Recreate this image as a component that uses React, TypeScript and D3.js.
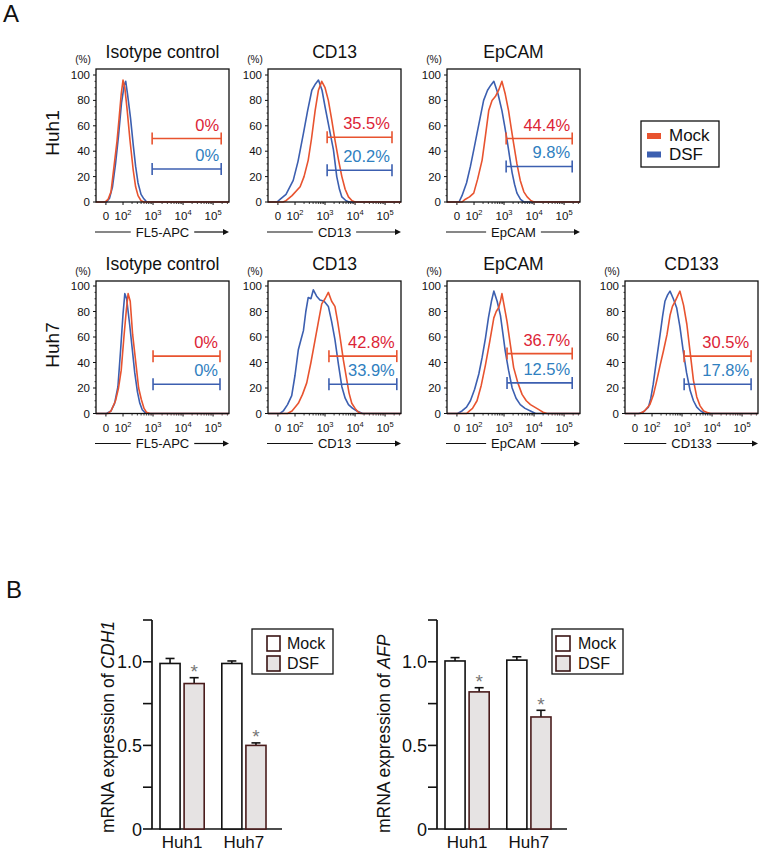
import React from 'react';
import * as d3 from 'd3';

const FONT = "'Liberation Sans', Arial, Helvetica, sans-serif";
const MOCK_LINE = '#e8532f';
const DSF_LINE = '#3c5fb0';
const MOCK_TEXT = '#dc2436';
const DSF_TEXT = '#2f80c0';

// ---------- Panel A data ----------
const cellLines = ['Huh1', 'Huh7'];
const markerTitles = ['Isotype control', 'CD13', 'EpCAM', 'CD133'];
const axisLabels = ['FL5-APC', 'CD13', 'EpCAM', 'CD133'];
const xTickValues = [1.43, 2, 3, 4, 5];
const xTickBase = ['0', '10', '10', '10', '10'];
const xTickExp = ['', '2', '3', '4', '5'];
const yTickValues = [0, 20, 40, 60, 80, 100];
const legendA = ['Mock', 'DSF'];

// histograms: [display decade, % of max]
const huh1IsoMock: [number, number][] = [[1.1,0],[1.4,0],[1.5,2],[1.6,8],[1.7,28],[1.8,48],[1.87,66],[1.94,85],[2.0,96],[2.06,90],[2.14,72],[2.23,49],[2.34,25],[2.42,12],[2.5,5],[2.6,1],[2.7,0],[5.53,0]];
const huh1IsoDSF: [number, number][] = [[1.1,0],[1.45,0],[1.55,3],[1.65,12],[1.75,30],[1.85,52],[1.95,78],[2.04,92],[2.09,95],[2.15,85],[2.25,66],[2.34,45],[2.42,28],[2.5,15],[2.6,6],[2.68,3],[2.79,0],[5.53,0]];
const huh1CD13Mock: [number, number][] = [[1.1,0],[1.6,0],[1.7,1],[1.9,5],[2.17,12],[2.3,20],[2.44,33],[2.55,50],[2.67,72],[2.78,88],[2.89,95],[3.0,90],[3.11,80],[3.22,65],[3.33,49],[3.45,33],[3.56,20],[3.67,10],[3.78,4],[3.9,1],[4.0,0],[5.53,0]];
const huh1CD13DSF: [number, number][] = [[1.1,0],[1.4,0],[1.5,2],[1.7,6],[1.94,17],[2.1,32],[2.28,54],[2.42,72],[2.56,88],[2.68,93],[2.78,96],[2.9,88],[3.0,75],[3.14,58],[3.28,41],[3.39,20],[3.48,10],[3.56,4],[3.7,1],[3.8,0],[5.53,0]];
const huh1EpMock: [number, number][] = [[1.1,0],[1.6,0],[1.7,2],[1.85,4],[1.99,7],[2.12,18],[2.27,33],[2.38,52],[2.49,72],[2.6,80],[2.71,83],[2.82,88],[2.93,95],[3.04,85],[3.15,72],[3.24,58],[3.32,46],[3.43,30],[3.54,17],[3.66,8],[3.77,4],[3.9,1],[4.0,0],[5.53,0]];
const huh1EpDSF: [number, number][] = [[1.1,0],[1.5,0],[1.6,5],[1.75,15],[1.88,28],[2.0,42],[2.1,54],[2.21,67],[2.32,80],[2.45,88],[2.56,92],[2.66,95],[2.8,85],[2.93,72],[3.02,60],[3.1,49],[3.19,35],[3.27,23],[3.35,14],[3.43,7],[3.55,2],[3.66,0],[5.53,0]];

const huh7IsoMock: [number, number][] = [[1.1,0],[1.5,0],[1.6,2],[1.75,10],[1.85,20],[1.94,34],[2.03,60],[2.11,81],[2.17,94],[2.24,88],[2.32,62],[2.44,37],[2.52,20],[2.61,11],[2.7,4],[2.78,1],[2.9,0],[5.53,0]];
const huh7IsoDSF: [number, number][] = [[1.1,0],[1.45,0],[1.6,2],[1.72,8],[1.83,21],[1.92,50],[2.0,78],[2.06,94],[2.12,90],[2.22,70],[2.31,50],[2.39,32],[2.48,17],[2.56,8],[2.64,3],[2.72,1],[2.85,0],[5.53,0]];
const huh7CD13Mock: [number, number][] = [[1.1,0],[1.75,0],[1.9,2],[2.11,8],[2.25,15],[2.39,24],[2.53,40],[2.67,58],[2.78,72],[2.89,86],[3.0,90],[3.11,95],[3.22,88],[3.33,84],[3.42,72],[3.5,60],[3.61,42],[3.72,27],[3.8,16],[3.89,8],[4.0,4],[4.11,1],[4.2,0],[5.53,0]];
const huh7CD13DSF: [number, number][] = [[1.1,0],[1.5,0],[1.61,2],[1.75,7],[1.89,14],[2.0,30],[2.11,50],[2.2,58],[2.28,65],[2.36,80],[2.44,91],[2.53,90],[2.61,97],[2.72,92],[2.83,89],[2.97,88],[3.11,84],[3.22,72],[3.33,58],[3.45,38],[3.56,21],[3.67,12],[3.78,7],[3.92,4],[4.06,2],[4.25,0],[5.53,0]];
const huh7EpMock: [number, number][] = [[1.1,0],[1.75,0],[1.85,2],[1.95,4],[2.1,10],[2.24,22],[2.38,38],[2.52,56],[2.66,75],[2.74,80],[2.82,83],[2.88,88],[2.93,94],[3.0,85],[3.1,72],[3.21,54],[3.32,36],[3.46,24],[3.6,15],[3.74,10],[3.88,7],[4.02,5],[4.16,3],[4.3,1],[4.43,0],[5.53,0]];
const huh7EpDSF: [number, number][] = [[1.1,0],[1.45,0],[1.6,2],[1.75,5],[1.88,10],[2.02,19],[2.16,31],[2.27,44],[2.38,59],[2.48,75],[2.58,88],[2.66,96],[2.77,88],[2.88,77],[2.96,63],[3.04,49],[3.15,34],[3.27,20],[3.4,12],[3.54,7],[3.7,4],[3.88,2],[4.05,0],[5.53,0]];
const huh7CD133Mock: [number, number][] = [[1.1,0],[1.6,0],[1.75,2],[1.93,7],[2.05,15],[2.16,26],[2.27,38],[2.38,49],[2.5,62],[2.6,77],[2.68,84],[2.77,88],[2.85,92],[2.93,96],[3.05,85],[3.16,70],[3.27,48],[3.38,26],[3.49,13],[3.6,6],[3.72,2],[3.82,1],[3.95,0],[5.53,0]];
const huh7CD133DSF: [number, number][] = [[1.1,0],[1.55,0],[1.7,1],[1.88,5],[1.96,12],[2.04,23],[2.15,42],[2.27,62],[2.35,76],[2.43,88],[2.52,93],[2.6,96],[2.71,90],[2.82,83],[2.93,68],[3.04,49],[3.15,32],[3.27,18],[3.38,10],[3.49,5],[3.62,2],[3.75,0],[5.53,0]];

const huh1Mock = [huh1IsoMock, huh1CD13Mock, huh1EpMock];
const huh1DSF = [huh1IsoDSF, huh1CD13DSF, huh1EpDSF];
const huh7Mock = [huh7IsoMock, huh7CD13Mock, huh7EpMock, huh7CD133Mock];
const huh7DSF = [huh7IsoDSF, huh7CD13DSF, huh7EpDSF, huh7CD133DSF];

const huh1MockPct = ['0%', '35.5%', '44.4%'];
const huh1DsfPct = ['0%', '20.2%', '9.8%'];
const huh7MockPct = ['0%', '42.8%', '36.7%', '30.5%'];
const huh7DsfPct = ['0%', '33.9%', '12.5%', '17.8%'];

const huh1MockGateY = [50, 51, 50];
const huh1DsfGateY = [26, 25, 28];
const huh7MockGateY = [45, 45, 47, 45];
const huh7DsfGateY = [23, 23, 24, 23];
const huh1GateStart = [2.97, 3.07, 3.07];
const huh1GateEnd = [5.27, 5.23, 5.27];
const huh7GateStart = [3.0, 3.13, 3.1, 3.07];
const huh7GateEnd = [5.23, 5.39, 5.27, 5.3];

// ---------- Panel B data ----------
const bCategories = ['Huh1', 'Huh7'];
const bGroups = ['Mock', 'DSF'];
const cdh1Mock = [0.99, 0.99];
const cdh1MockErr = [0.03, 0.015];
const cdh1DSF = [0.87, 0.50];
const cdh1DSFErr = [0.035, 0.015];
const afpMock = [1.005, 1.01];
const afpMockErr = [0.02, 0.02];
const afpDSF = [0.82, 0.67];
const afpDSFErr = [0.025, 0.04];
const bYTicks = [0, 0.25, 0.5, 0.75, 1.0, 1.25];
const bYLabels: Record<string, string> = { '0': '0', '0.5': '0.5', '1': '1.0' };

// approximate Arial widths
const CW: Record<string, number> = {
  A: .667, B: .667, C: .722, D: .722, E: .667, F: .611, H: .722, I: .278, L: .556, M: .833, P: .667, '-': .333,
  '0': .556, '1': .556, '2': .556, '3': .556, '5': .556, a: .556, c: .5, e: .556, l: .222, n: .556, o: .556, p: .556, r: .333, t: .278, y: .5, ' ': .278,
};
const textWidth = (s: string, size: number) => s.split('').reduce((a, ch) => a + (CW[ch] ?? 0.6), 0) * size;

const PW = 133;

type HistProps = {
  left: number; top: number; y0: number; y100: number; title: string; axisLabel: string;
  mock: [number, number][]; dsf: [number, number][];
  mockGate: number; dsfGate: number; gStart: number; gEnd: number; mockPct: string; dsfPct: string;
};

function Histogram(p: HistProps) {
  const x = d3.scaleLinear().domain([1.1, 5.53]).range([p.left, p.left + PW]);
  const y = d3.scaleLinear().domain([0, 100]).range([p.y0, p.y100]);
  const line = d3.line<[number, number]>().x(d => x(d[0])).y(d => y(d[1]));
  const minorY = d3.range(0, 101, 5).filter(v => v % 20 !== 0);
  const minorX: number[] = [];
  for (let k = 2; k <= 5; k++) for (let m = 2; m <= 9; m++) {
    const v = Math.log10(m * Math.pow(10, k));
    if (v < 5.5) minorX.push(v);
  }
  const cx = p.left + PW / 2;
  const lw = textWidth(p.axisLabel, 13);
  const ly = p.y0 + 30;
  const right = p.left + PW;
  const gate = (gy: number, color: string) => {
    const yy = y(gy);
    return (
      <g stroke={color} strokeWidth={1.6}>
        <line x1={x(p.gStart)} x2={x(p.gEnd)} y1={yy} y2={yy} />
        <line x1={x(p.gStart)} x2={x(p.gStart)} y1={yy - 6} y2={yy + 6} />
        <line x1={x(p.gEnd)} x2={x(p.gEnd)} y1={yy - 6} y2={yy + 6} />
      </g>
    );
  };
  return (
    <g>
      <text x={cx} y={p.top - 11} textAnchor="middle" fontSize={17.5}>{p.title}</text>
      <text x={p.left - 13} y={p.top - 6} textAnchor="middle" fontSize={10}>(%)</text>
      {yTickValues.map(v => (
        <g key={v}>
          <line x1={p.left - 3} x2={p.left} y1={y(v)} y2={y(v)} stroke="#111" strokeWidth={1} />
          <text x={p.left - 6} y={y(v) + 4} textAnchor="end" fontSize={11.5}>{v}</text>
        </g>
      ))}
      {minorY.map(v => <line key={'my' + v} x1={p.left - 1.5} x2={p.left} y1={y(v)} y2={y(v)} stroke="#111" strokeWidth={0.8} />)}
      {xTickValues.map((v, i) => (
        <g key={'xt' + i}>
          <line x1={x(v)} x2={x(v)} y1={p.y0} y2={p.y0 + 3} stroke="#111" strokeWidth={1} />
          <text x={x(v)} y={p.y0 + 18} textAnchor="middle" fontSize={11.5}>
            {xTickBase[i]}
            {xTickExp[i] && <tspan fontSize={7.5} dy={-5}>{xTickExp[i]}</tspan>}
          </text>
        </g>
      ))}
      {minorX.map((v, i) => <line key={'mx' + i} x1={x(v)} x2={x(v)} y1={p.y0} y2={p.y0 + 2} stroke="#111" strokeWidth={0.8} />)}
      <path d={line(p.dsf) || ''} fill="none" stroke={DSF_LINE} strokeWidth={1.6} strokeLinejoin="round" />
      <path d={line(p.mock) || ''} fill="none" stroke={MOCK_LINE} strokeWidth={1.6} strokeLinejoin="round" />
      <rect x={p.left} y={p.top} width={PW} height={p.y0 - p.top} fill="none" stroke="#111" strokeWidth={1.3} />
      {gate(p.mockGate, MOCK_LINE)}
      {gate(p.dsfGate, DSF_LINE)}
      <text x={x(p.gEnd) - 2} y={y(p.mockGate) - 8} textAnchor="end" fontSize={16.5} fill={MOCK_TEXT}>{p.mockPct}</text>
      <text x={x(p.gEnd) - 2} y={y(p.dsfGate) - 8} textAnchor="end" fontSize={16.5} fill={DSF_TEXT}>{p.dsfPct}</text>
      <line x1={p.left - 1} x2={cx - lw / 2 - 5} y1={ly} y2={ly} stroke="#111" strokeWidth={1.2} />
      <text x={cx} y={ly + 4.5} textAnchor="middle" fontSize={13}>{p.axisLabel}</text>
      <line x1={cx + lw / 2 + 5} x2={right - 4} y1={ly} y2={ly} stroke="#111" strokeWidth={1.2} />
      <path d={`M${right},${ly} L${right - 6},${ly - 3} L${right - 6},${ly + 3} Z`} fill="#111" />
    </g>
  );
}

type BarProps = {
  axisX: number; gene: string; mock: number[]; mockErr: number[]; dsf: number[]; dsfErr: number[];
  labelX: number; legX: number; legW: number; swX: number; swW: number; txtX: number;
};

function BarChart(p: BarProps) {
  const y = d3.scaleLinear().domain([0, 1.25]).range([829, 620]);
  const xg = d3.scaleBand<string>().domain(bCategories).range([p.axisX + 8, p.axisX + 114]).paddingInner(0.285).paddingOuter(0);
  const xs = d3.scaleBand<string>().domain(bGroups).range([0, xg.bandwidth()]).paddingInner(1 / 6);
  const bars = bCategories.flatMap((c, i) => [
    { c, g: 'Mock', v: p.mock[i], e: p.mockErr[i], star: false },
    { c, g: 'DSF', v: p.dsf[i], e: p.dsfErr[i], star: true },
  ]);
  return (
    <g>
      <line x1={p.axisX} x2={p.axisX} y1={620} y2={829} stroke="#111" strokeWidth={1.7} />
      <line x1={p.axisX} x2={p.axisX + 130} y1={829} y2={829} stroke="#111" strokeWidth={1.7} />
      {bYTicks.map(v => (
        <g key={v}>
          <line x1={p.axisX - 9} x2={p.axisX} y1={y(v)} y2={y(v)} stroke="#111" strokeWidth={1.6} />
          {bYLabels[String(v)] && (
            <text x={p.axisX - 10} y={y(v) + 6.5} textAnchor="end" fontSize={18}>{bYLabels[String(v)]}</text>
          )}
        </g>
      ))}
      {bars.map((b, i) => {
        const bx = (xg(b.c) as number) + (xs(b.g) as number);
        const bw = xs.bandwidth();
        const top = y(b.v);
        const et = y(b.v + b.e);
        const cx = bx + bw / 2;
        return (
          <g key={i}>
            <line x1={cx} x2={cx} y1={top} y2={et} stroke="#111" strokeWidth={1.6} />
            <line x1={cx - 4.5} x2={cx + 4.5} y1={et} y2={et} stroke="#111" strokeWidth={1.6} />
            <rect x={bx} y={top} width={bw} height={829 - top}
              fill={b.g === 'Mock' ? '#ffffff' : '#e6e3e3'}
              stroke={b.g === 'Mock' ? '#111' : '#4a1c1c'} strokeWidth={1.6} />
            {b.star && <text x={cx} y={et + 0.5} textAnchor="middle" fontSize={19} fill="#777">*</text>}
          </g>
        );
      })}
      {bCategories.map(c => (
        <text key={c} x={(xg(c) as number) + xg.bandwidth() / 2} y={848} textAnchor="middle" fontSize={17}>{c}</text>
      ))}
      <text transform={`translate(${p.labelX},833) rotate(-90)`} textAnchor="start" fontSize={17.5}>
        mRNA expression of <tspan fontStyle="italic">{p.gene}</tspan>
      </text>
      <rect x={p.legX} y={629} width={p.legW} height={45} fill="#fff" stroke="#111" strokeWidth={1.3} />
      {bGroups.map((g, i) => (
        <g key={g}>
          <rect x={p.swX} y={636 + i * 20} width={p.swW} height={15}
            fill={g === 'Mock' ? '#fff' : '#e6e3e3'} stroke="#3a1414" strokeWidth={1.6} />
          <text x={p.txtX} y={649 + i * 20} fontSize={16}>{g}</text>
        </g>
      ))}
    </g>
  );
}

export default function App() {
  const lefts = [96, 268, 447, 625];
  const rowGeom = [
    { top: 69, y0: 202, y100: 75 },
    { top: 281, y0: 413.5, y100: 286 },
  ];
  const rowMock = [huh1Mock, huh7Mock];
  const rowDSF = [huh1DSF, huh7DSF];
  const rowMockPct = [huh1MockPct, huh7MockPct];
  const rowDsfPct = [huh1DsfPct, huh7DsfPct];
  const rowMockGate = [huh1MockGateY, huh7MockGateY];
  const rowDsfGate = [huh1DsfGateY, huh7DsfGateY];
  const rowGStart = [huh1GateStart, huh7GateStart];
  const rowGEnd = [huh1GateEnd, huh7GateEnd];
  const rowLabelY = [133, 345];

  return (
    <svg width={763} height={856} style={{ position: 'absolute', left: 0, top: 0, background: '#fff' }}
      fontFamily={FONT} fill="#111">
      <rect x={0} y={0} width={763} height={856} fill="#fff" />
      <text x={3} y={22} fontSize={24}>A</text>
      <text x={6} y={598} fontSize={24}>B</text>
      {cellLines.map((cl, r) => (
        <g key={cl}>
          <text transform={`translate(59,${rowLabelY[r]}) rotate(-90)`} textAnchor="middle" fontSize={19}>{cl}</text>
          {rowMock[r].map((m, i) => (
            <Histogram key={i} left={lefts[i]} top={rowGeom[r].top} y0={rowGeom[r].y0} y100={rowGeom[r].y100}
              title={markerTitles[i]} axisLabel={axisLabels[i]} mock={m} dsf={rowDSF[r][i]}
              mockGate={rowMockGate[r][i]} dsfGate={rowDsfGate[r][i]} gStart={rowGStart[r][i]} gEnd={rowGEnd[r][i]}
              mockPct={rowMockPct[r][i]} dsfPct={rowDsfPct[r][i]} />
          ))}
        </g>
      ))}
      {/* legend A */}
      <rect x={641} y={121} width={78} height={46} fill="#fff" stroke="#111" strokeWidth={1.3} />
      {legendA.map((g, i) => (
        <g key={g}>
          <rect x={647} y={133 + i * 18.5} width={14} height={6} fill={i === 0 ? MOCK_LINE : DSF_LINE} />
          <text x={669} y={141 + i * 18.5} fontSize={17}>{g}</text>
        </g>
      ))}
      <BarChart axisX={152} gene="CDH1" mock={cdh1Mock} mockErr={cdh1MockErr} dsf={cdh1DSF} dsfErr={cdh1DSFErr}
        labelX={114} legX={252} legW={81} swX={267} swW={13} txtX={287} />
      <BarChart axisX={437} gene="AFP" mock={afpMock} mockErr={afpMockErr} dsf={afpDSF} dsfErr={afpDSFErr}
        labelX={390} legX={552} legW={71} swX={556} swW={14} txtX={578} />
    </svg>
  );
}
